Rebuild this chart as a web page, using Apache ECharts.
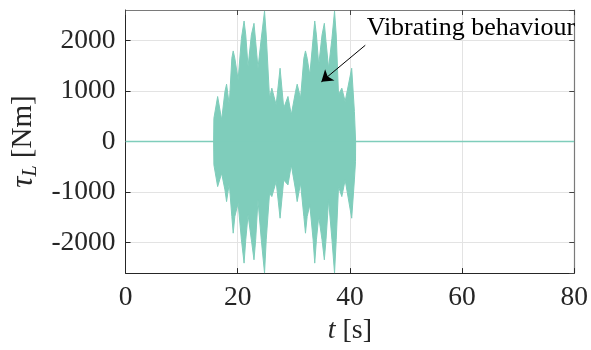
<!DOCTYPE html>
<html><head><meta charset="utf-8">
<script src="https://cdn.jsdelivr.net/npm/echarts@6/dist/echarts.min.js"></script>
<style>html,body{margin:0;padding:0;background:#fff}#c{width:591px;height:350px}</style>
</head><body><div id="c"></div>
<script>
const tEnvelope = [15.7,15.75,16.42,17.13,17.72,18.01,18.49,18.95,19.19,19.48,20.07,20.66,21.13,21.43,21.84,22.43,22.9,23.2,23.61,24.2,24.78,25.08,25.67,26.08,26.85,27.55,28.2,28.96,29.55,30.31,30.6,31.2,31.79,32.08,32.38,32.85,33.44,33.73,34.03,34.44,35.03,35.44,35.74,36.2,36.8,37.26,37.56,37.97,38.56,39.15,40.32,40.8,41.0,41.02];
const upperEnvelope = [0,460,890,430,990,1134,726,1647,1791,1647,1219,2041,2383,2107,1482,2107,2337,1975,1449,2041,2580,2107,858,1055,726,1449,661,891,529,990,1134,858,1647,1791,1647,1317,2041,2383,2107,1515,2107,2337,1975,1449,2041,2580,2107,923,1055,793,1449,595,595,0];
const lowerEnvelope = [0,-460,-890,-628,-956,-1187,-825,-1482,-1811,-1482,-1219,-1942,-2403,-1942,-1449,-1942,-2337,-1942,-1154,-1942,-2600,-1942,-1022,-1088,-792,-1515,-759,-858,-463,-956,-1187,-825,-1482,-1811,-1482,-1252,-1942,-2403,-1942,-1482,-1942,-2337,-1942,-1154,-1942,-2600,-1942,-890,-1088,-759,-1515,-759,-400,0];
const baselineT = [0, 80];
const baselineV = [0, 0];
const yTicks = [-2000, -1000, 0, 1000, 2000];
const annotationText = 'Vibrating behaviour';
const annotationTextPos = [42.9, 2240];
const arrowFrom = [42.74, 1903];
const arrowTo = [34.91, 1180];

const color = '#7fcdbb';
const FONT = 'Liberation Serif';
const TXT = '#262626';
const chart = echarts.init(document.getElementById('c'));
const zip = (a, b) => a.map((v, i) => [v, b[i]]);

const commonY = { type: 'value', min: -2600, max: 2600, splitNumber: 5 };
chart.setOption({
  animation: false,
  grid: { left: 123, right: 15, top: 10, bottom: 76.5 },
  xAxis: [{
    type: 'value', min: 0, max: 80, interval: 20,
    name: '{i|t} [s]', nameLocation: 'middle', nameGap: 38,
    nameTextStyle: { fontFamily: FONT, fontSize: 28, color: TXT,
      rich: { i: { fontFamily: FONT, fontStyle: 'italic', fontSize: 28, color: TXT } } },
    axisLine: { show: true, onZero: false, lineStyle: { color: TXT, width: 1 } },
    axisTick: { show: true, inside: true, length: 5, lineStyle: { color: TXT } },
    axisLabel: { fontFamily: FONT, fontSize: 27.5, color: TXT, margin: 11 },
    splitLine: { show: true, lineStyle: { color: '#e3e3e3', width: 1 } }
  }, {
    type: 'value', min: 0, max: 80, interval: 20, position: 'top',
    axisLine: { show: true, onZero: false, lineStyle: { color: '#7a7a7a', width: 1.2 } },
    axisTick: { show: true, inside: true, length: 5, lineStyle: { color: '#444' } },
    axisLabel: { show: false }, splitLine: { show: false }
  }],
  yAxis: [Object.assign({}, commonY, {
    name: '{i|τ}{s|L} [Nm]', nameLocation: 'middle', nameGap: 78, nameRotate: 90,
    nameTextStyle: { fontFamily: FONT, fontSize: 29, color: TXT,
      rich: { i: { fontFamily: FONT, fontStyle: 'italic', fontSize: 31, color: TXT },
              s: { fontFamily: FONT, fontStyle: 'italic', fontSize: 20, color: TXT, verticalAlign: 'bottom', padding: [14, 0, 0, 0] } } },
    axisLine: { show: true, onZero: false, lineStyle: { color: TXT, width: 1 } },
    axisTick: { show: true, inside: true, length: 5, lineStyle: { color: TXT } },
    axisLabel: { fontFamily: FONT, fontSize: 27.5, color: TXT, margin: 10, showMinLabel: false, showMaxLabel: false,
      formatter: v => yTicks.includes(v) ? String(v) : '' },
    splitLine: { show: true, lineStyle: { color: '#e3e3e3', width: 1 } }
  }), Object.assign({}, commonY, {
    position: 'right',
    axisLine: { show: true, onZero: false, lineStyle: { color: '#7a7a7a', width: 1.2 } },
    axisTick: { show: true, inside: true, length: 5, lineStyle: { color: '#444' } },
    axisLabel: { show: false }, splitLine: { show: false }
  })],
  series: [{
    type: 'line', data: zip(baselineT, baselineV), symbol: 'none',
    lineStyle: { color, width: 1.5 }, z: 2
  }, {
    type: 'line', data: zip(tEnvelope, upperEnvelope), symbol: 'none',
    lineStyle: { color, width: 1 }, areaStyle: { color, opacity: 1 }, z: 3,
    markLine: {
      silent: true, symbol: ['none', 'arrow'], symbolSize: 11,
      lineStyle: { color: '#000', width: 1, type: 'solid' }, label: { show: false },
      data: [[{ coord: arrowFrom }, { coord: arrowTo }]]
    },
    markPoint: {
      silent: true, symbol: 'circle', symbolSize: 1, itemStyle: { color: 'rgba(0,0,0,0)' },
      label: { show: true, position: 'right', distance: 0, formatter: annotationText,
        fontFamily: FONT, fontSize: 26, color: '#000' },
      data: [{ coord: annotationTextPos }]
    }
  }, {
    type: 'line', data: zip(tEnvelope, lowerEnvelope), symbol: 'none',
    lineStyle: { color, width: 1 }, areaStyle: { color, opacity: 1 }, z: 3
  }]
});
</script></body></html>
